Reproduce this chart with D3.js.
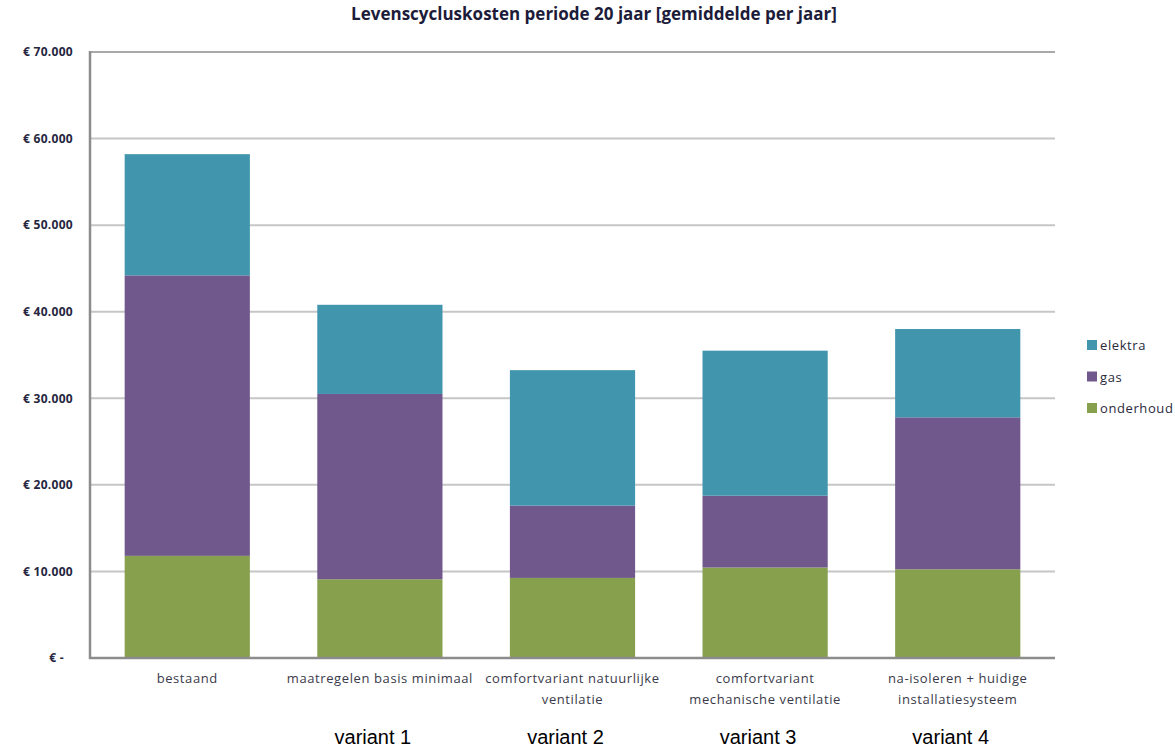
<!DOCTYPE html>
<html>
<head>
<meta charset="utf-8">
<script src="https://cdn.jsdelivr.net/npm/d3@7"></script>
<style>
  body { margin: 0; background: #fff; }
  text { font-family: "Open Sans", Lato, sans-serif; }
</style>
</head>
<body>
<div id="chart"></div>
<script>
// data
const categories  = ['bestaand', 'maatregelen basis minimaal', 'comfortvariant natuurlijke ventilatie',
                     'comfortvariant mechanische ventilatie', 'na-isoleren + huidige installatiesysteem'];
const labelLines  = [['bestaand'], ['maatregelen basis minimaal'], ['comfortvariant natuurlijke', 'ventilatie'],
                     ['comfortvariant', 'mechanische ventilatie'], ['na-isoleren + huidige', 'installatiesysteem']];
const variants    = ['', 'variant 1', 'variant 2', 'variant 3', 'variant 4'];
const seriesNames = ['onderhoud', 'gas', 'elektra'];
const onderhoud   = [11800, 9100, 9250, 10450, 10250];
const gas         = [32400, 21400, 8350, 8300, 17550];
const elektra     = [14000, 10300, 15650, 16750, 10200];
const yTicks      = [0, 10000, 20000, 30000, 40000, 50000, 60000, 70000];
const colors      = { onderhoud: '#87a04e', gas: '#70588d', elektra: '#4195ad' };
const title       = 'Levenscycluskosten periode 20 jaar [gemiddelde per jaar]';

const width  = 1175;
const height = 750;
const margin = { top: 52, right: 120, bottom: 92, left: 90 };

const rows = categories.map((c, i) => ({
    cat: c, onderhoud: onderhoud[i], gas: gas[i], elektra: elektra[i]
}));

const svg = d3.select('#chart').append('svg')
    .attr('width', width)
    .attr('height', height);

svg.append('rect').attr('width', width).attr('height', height).attr('fill', '#fff');

const x = d3.scaleBand()
    .domain(categories)
    .range([margin.left, width - margin.right])
    .paddingInner(0.35)
    .paddingOuter(0.18);

const y = d3.scaleLinear()
    .domain([0, 70000])
    .range([height - margin.bottom, margin.top]);

const nl = d3.formatLocale({ decimal: ',', thousands: '.', grouping: [3], currency: ['€ ', ''] });
const fmt = v => v === 0 ? '€ -' : '€ ' + nl.format(',d')(v);

// gridlines
svg.append('g')
    .selectAll('line')
    .data(yTicks.filter(d => d > 0))
    .join('line')
        .attr('x1', margin.left)
        .attr('x2', width - margin.right)
        .attr('y1', d => y(d))
        .attr('y2', d => y(d))
        .attr('stroke', d => d === 70000 ? '#a8a8a8' : '#c6c6c6')
        .attr('stroke-width', 2);

// stacked bars
const stack = d3.stack().keys(seriesNames)(rows);

svg.append('g')
    .selectAll('g')
    .data(stack)
    .join('g')
        .attr('fill', d => colors[d.key])
    .selectAll('rect')
    .data(d => d)
    .join('rect')
        .attr('x', d => x(d.data.cat))
        .attr('width', x.bandwidth())
        .attr('y', d => y(d[1]))
        .attr('height', d => y(d[0]) - y(d[1]));

// axis frame
svg.append('line')
    .attr('x1', margin.left).attr('x2', margin.left)
    .attr('y1', y(70000) - 1).attr('y2', y(0) + 1)
    .attr('stroke', '#8c8c8c').attr('stroke-width', 2.5);

svg.append('line')
    .attr('x1', margin.left - 1).attr('x2', width - margin.right)
    .attr('y1', y(0)).attr('y2', y(0))
    .attr('stroke', '#8c8c8c').attr('stroke-width', 2.5);

// y axis labels
const yAxis = svg.append('g')
    .attr('transform', `translate(${margin.left},0)`)
    .call(d3.axisLeft(y).tickValues(yTicks).tickFormat(fmt).tickSize(0).tickPadding(17));

yAxis.select('.domain').remove();
yAxis.selectAll('text')
    .attr('font-family', '"Open Sans", sans-serif')
    .attr('font-size', 12)
    .attr('font-weight', 'bold')
    .attr('letter-spacing', 0.3)
    .attr('fill', '#262640')
    .attr('x', d => d === 0 ? -26 : -17);

// category labels
const xl = svg.append('g')
    .selectAll('text')
    .data(labelLines)
    .join('text')
        .attr('x', (d, i) => x(categories[i]) + x.bandwidth() / 2)
        .attr('y', y(0) + 25)
        .attr('text-anchor', 'middle')
        .attr('font-size', 13)
        .attr('letter-spacing', 0.6)
        .attr('fill', '#3a3a4a');

xl.selectAll('tspan')
    .data(d => d)
    .join('tspan')
        .attr('x', function () { return this.parentNode.getAttribute('x'); })
        .attr('dy', (d, i) => i === 0 ? 0 : 21)
        .text(d => d);

// variant labels below
svg.append('g')
    .selectAll('text')
    .data(variants)
    .join('text')
        .attr('x', (d, i) => x(categories[i]) + x.bandwidth() / 2 - 7)
        .attr('y', 744)
        .attr('text-anchor', 'middle')
        .style('font-family', 'Arial, "Liberation Sans", sans-serif')
        .attr('font-size', 20)
        .attr('fill', '#000')
        .text(d => d);

// legend
const legend = svg.append('g')
    .selectAll('g')
    .data(seriesNames.slice().reverse())
    .join('g')
        .attr('transform', (d, i) => `translate(1087,${345 + i * 31.5})`);

legend.append('rect')
    .attr('x', 0).attr('y', -5)
    .attr('width', 10).attr('height', 10)
    .attr('fill', d => colors[d]);

legend.append('text')
    .attr('x', 13).attr('y', 5)
    .attr('font-size', 13)
    .attr('letter-spacing', 0.6)
    .attr('fill', '#2a2a3a')
    .text(d => d);

// title
svg.append('text')
    .attr('x', 594)
    .attr('y', 20)
    .attr('text-anchor', 'middle')
    .attr('font-size', 17)
    .attr('font-weight', 'bold')
    .attr('fill', '#1c1c3a')
    .text(title);
</script>
</body>
</html>
